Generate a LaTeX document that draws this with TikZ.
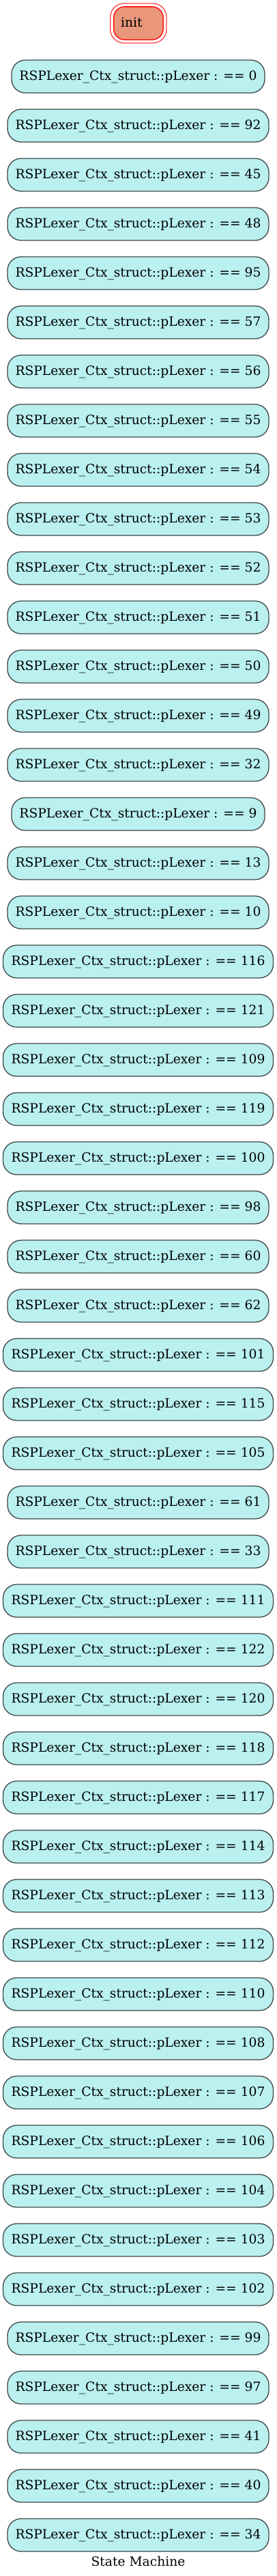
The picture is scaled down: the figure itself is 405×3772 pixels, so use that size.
\documentclass[tikz,border=0pt]{standalone}
\usepackage{fontspec}
\setmainfont{DejaVu Serif}
\definecolor{statefill}{RGB}{186,240,240}
\definecolor{stateborder}{RGB}{64,72,72}
\definecolor{initfill}{RGB}{233,150,122}
\definecolor{initborder}{RGB}{255,0,0}
\definecolor{initouter}{RGB}{255,70,70}
\begin{document}
\begin{tikzpicture}[x=1pt,y=1pt,
  every node/.style={font=\fontsize{18.67}{22}\selectfont},
  state/.style={draw=stateborder, fill=statefill, line width=1.3pt,
    rounded corners=20pt, minimum height=48pt, inner xsep=4pt, inner ysep=0pt,
    text height=14pt, text depth=4pt},
  initstate/.style={draw=initborder, fill=initfill, line width=1.3pt,
    rounded corners=16pt, minimum width=72.6pt, minimum height=48.3pt,
    inner xsep=0pt, inner ysep=0pt, text height=14pt, text depth=4pt},
  outerring/.style={draw=initouter, line width=1.3pt, rounded corners=20pt,
    minimum width=82.3pt, minimum height=58pt, inner sep=0pt},
  caption/.style={inner sep=0pt}
]
\useasboundingbox[fill=white] (0,0) rectangle (405,-3772);
% init state (double border)
\node[outerring] (initring) at (202.9,-34) {};
\node[initstate] (init) at (202.9,-34) {\hspace*{-20pt}init};
% states
\foreach \v [count=\i] in {0,92,45,48,95,57,56,55,54,53,52,51,50,49,32,9,13,10,116,121,109,119,100,98,60,62,101,115,105,61,33,111,122,120,118,117,114,113,112,110,108,107,106,104,103,102,99,97,41,40,34} {
  \pgfmathsetmacro\yy{-112-72*(\i-1)}
  \pgfmathsetmacro\ww{\v<10 ? 371 : (\v<100 ? 383 : 396)}
  \node[state, minimum width=\ww pt] (s\v) at (202.5,\yy) {RSPLexer\_Ctx\_struct::pLexer : == \v};
}
\node[caption, anchor=base] (title) at (202.5,-3757) {State Machine};
\end{tikzpicture}
\end{document}
